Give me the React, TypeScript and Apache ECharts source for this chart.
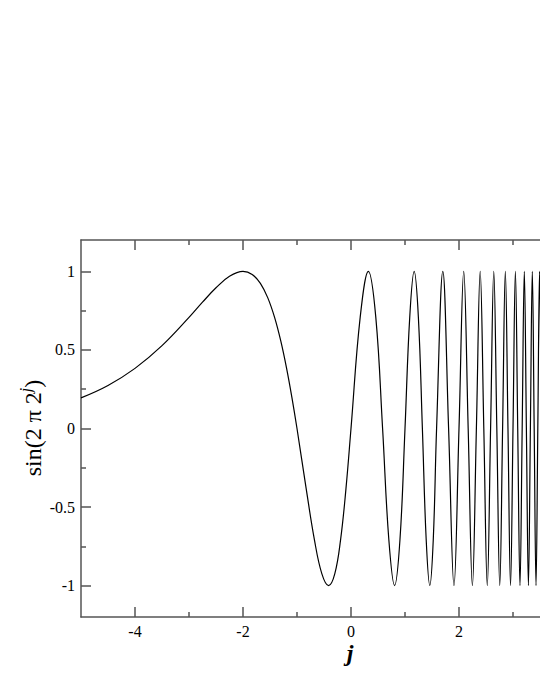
import React, { useEffect, useRef } from "react";
import * as echarts from "echarts";

// curve points: j and sin(2π·2^j)
const jValues = [
  -5, -4.5, -4, -3.5, -3, -2.75, -2.5, -2.25, -2,
  -1.83007, -1.67807, -1.54057, -1.41504, -1.29956, -1.19265, -1.09311, -1,
  -0.83007, -0.67807, -0.54057, -0.41504, -0.29956, -0.19265, -0.09311, 0,
  0.16993, 0.32193, 0.45943, 0.58496, 0.70044, 0.80735, 0.90689, 1,
  1.08746, 1.16993, 1.24793, 1.32193, 1.39232, 1.45943, 1.52356, 1.58496,
  1.70044, 1.80735, 1.90689, 2,
  2.08746, 2.16993, 2.24793, 2.32193,
  2.39232, 2.45943, 2.52356, 2.58496,
  2.64386, 2.70044, 2.75489, 2.80735,
  2.85798, 2.90689, 2.9542, 3,
  3.04439, 3.08746, 3.12928, 3.16993,
  3.20945, 3.24793, 3.2854, 3.32193,
  3.35755, 3.39232, 3.42626, 3.45943,
  3.49185, 3.52356, 3.55461, 3.58496,
];
const yValues = [
  0.1951, 0.2741, 0.3827, 0.5273, 0.7071, 0.804, 0.8959, 0.9689, 1,
  0.9808, 0.9239, 0.8315, 0.7071, 0.5556, 0.3827, 0.1951, 0,
  -0.3827, -0.7071, -0.9239, -1, -0.9239, -0.7071, -0.3827, 0,
  0.7071, 1, 0.7071, 0, -0.7071, -1, -0.7071, 0,
  0.7071, 1, 0.7071, 0, -0.7071, -1, -0.7071, 0,
  1, 0, -1, 0,
  1, 0, -1, 0,
  1, 0, -1, 0,
  1, 0, -1, 0,
  1, 0, -1, 0,
  1, 0, -1, 0,
  1, 0, -1, 0,
  1, 0, -1, 0,
  1, 0, -1, 0,
];

const xMajorTicks = [-4, -2, 0, 2, 4];
const xTickLabels = [-4, -2, 0, 2];
const xMinorTicks = [-3, -1, 1, 3];
const yMajorTicks = [-1, -0.5, 0, 0.5, 1];
const yMinorTicks = [-0.75, -0.25, 0.25, 0.75];

const X_MIN = -5;
const X_MAX = 5;
const Y_MIN = -1.2;
const Y_MAX = 1.2;

const FONT = "Liberation Serif";
const AXIS_COLOR = "#555";

function makeAxis(
  dim: "x" | "y",
  position: string,
  ticks: number[],
  labels: number[] | null,
  len: number,
  showLine: boolean
) {
  return {
    type: "value",
    position,
    min: dim === "x" ? X_MIN : Y_MIN,
    max: dim === "x" ? X_MAX : Y_MAX,
    splitLine: { show: false },
    axisLine: {
      show: showLine,
      onZero: false,
      lineStyle: { color: AXIS_COLOR, width: 1.5 },
    },
    axisTick: {
      show: true,
      inside: true,
      length: len,
      customValues: ticks,
      lineStyle: { color: AXIS_COLOR, width: 1.5 },
    },
    axisLabel: labels
      ? {
          show: true,
          customValues: labels,
          margin: 6,
          color: "#000",
          fontFamily: FONT,
          fontSize: 16,
          formatter: "{t|{value}}",
          rich: {
            t: { fontFamily: FONT, fontSize: 16, color: "#000" },
          },
        }
      : { show: false },
  };
}

export default function App() {
  const ref = useRef<HTMLDivElement>(null);

  useEffect(() => {
    if (!ref.current) return;
    const chart = echarts.init(ref.current, undefined, { renderer: "svg" });
    const data = jValues.map((j, i) => [j, yValues[i]]);
    chart.setOption({
      animation: false,
      backgroundColor: "#fff",
      textStyle: { fontFamily: FONT },
      grid: {
        left: 81,
        top: 240,
        right: 19,
        bottom: 82,
        containLabel: false,
        outerBoundsMode: "none",
      },
      xAxis: [
        makeAxis("x", "bottom", xMajorTicks, xTickLabels, 10, true),
        makeAxis("x", "bottom", xMinorTicks, null, 5, false),
        makeAxis("x", "top", xMajorTicks, null, 10, true),
        makeAxis("x", "top", xMinorTicks, null, 5, false),
      ],
      yAxis: [
        makeAxis("y", "left", yMajorTicks, yMajorTicks, 10, true),
        makeAxis("y", "left", yMinorTicks, null, 5, false),
        makeAxis("y", "right", yMajorTicks, null, 10, true),
        makeAxis("y", "right", yMinorTicks, null, 5, false),
      ],
      series: [
        {
          type: "line",
          xAxisIndex: 0,
          yAxisIndex: 0,
          data,
          smooth: 0.4,
          showSymbol: false,
          symbol: "none",
          lineStyle: { color: "#000", width: 1.2 },
        },
      ],
      graphic: [
        {
          type: "text",
          x: 31,
          y: 428,
          rotation: Math.PI / 2,
          style: {
            text: "{a|sin(2 π 2}{s|j}{a|)}",
            align: "center",
            verticalAlign: "middle",
            fill: "#000",
            rich: {
              a: { fontFamily: FONT, fontSize: 24, lineHeight: 28, verticalAlign: "bottom", fill: "#000" },
              s: { fontFamily: FONT, fontSize: 16, fontStyle: "italic", lineHeight: 16, verticalAlign: "top", fill: "#000" },
            },
          },
        },
        {
          type: "text",
          x: 350,
          y: 653,
          style: {
            text: "j",
            fontFamily: FONT,
            fontSize: 24,
            fontWeight: "bold",
            fontStyle: "italic",
            align: "center",
            verticalAlign: "middle",
            fill: "#000",
          },
        },
      ],
    });
    return () => chart.dispose();
  }, []);

  return (
    <div
      style={{
        position: "fixed",
        left: 0,
        top: 0,
        width: 540,
        height: 699,
        overflow: "hidden",
        background: "#fff",
      }}
    >
      <div ref={ref} style={{ width: 640, height: 699 }} />
    </div>
  );
}
